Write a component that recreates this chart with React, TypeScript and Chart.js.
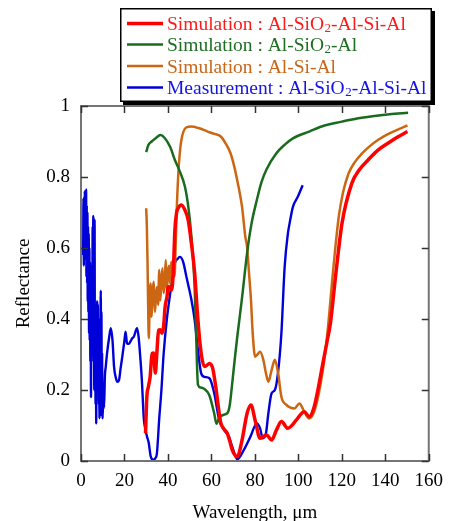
import React, { useEffect, useRef } from 'react';
import { Chart, registerables } from 'chart.js';

Chart.register(...registerables);

const FONT = '"Liberation Serif", "Times New Roman", Times, serif';

const xTickValues = [0, 20, 40, 60, 80, 100, 120, 140, 160];
const yTickValues = [0, 0.2, 0.4, 0.6, 0.8, 1];
const yTickLabels = ['0', '0.2', '0.4', '0.6', '0.8', '1'];

const legendLabels = [
  ['Simulation : Al-SiO', '2', '-Al-Si-Al'],
  ['Simulation : Al-SiO', '2', '-Al'],
  ['Simulation : Al-Si-Al', '', ''],
  ['Measurement : Al-SiO', '2', '-Al-Si-Al'],
];
const seriesColors = ['#ff0000', '#1b6b1f', '#cc6612', '#0000d8'];
const legendTextColors = ['#ff1a1a', '#1f6e23', '#c8661a', '#1414e6'];
const seriesWidths = [3.5, 2.5, 2.5, 2.4];

const redX = [29.7, 30.3, 31, 31.8, 32.7, 33.4, 34.2, 34.9, 35.7, 36.5, 37.2, 38, 38.7, 39.5, 40.2, 41, 41.7, 42.5, 43.2, 44, 44.7, 46.2, 47.8, 49.3, 50.8, 52.3, 53.8, 55.3, 56.8, 58, 59.1, 60.6, 62, 63.6, 64.3, 65.8, 67.3, 68.5, 69.6, 71.9, 74.1, 76.4, 78.2, 80.1, 82.4, 84, 85.4, 87.7, 89.9, 92.2, 95.2, 97, 99, 102.7, 105, 107.3, 109, 111, 113, 114.8, 117.1, 120.1, 124.6, 128, 132.1, 136.5, 141.2, 145.5, 150.2];
const redY = [0.078, 0.181, 0.209, 0.237, 0.303, 0.304, 0.248, 0.304, 0.369, 0.37, 0.36, 0.378, 0.435, 0.46, 0.491, 0.49, 0.482, 0.538, 0.651, 0.70, 0.712, 0.721, 0.707, 0.679, 0.613, 0.529, 0.397, 0.303, 0.266, 0.27, 0.275, 0.261, 0.209, 0.134, 0.108, 0.09, 0.078, 0.055, 0.031, 0.012, 0.059, 0.134, 0.158, 0.115, 0.064, 0.07, 0.073, 0.059, 0.087, 0.111, 0.092, 0.10, 0.115, 0.139, 0.125, 0.153, 0.20, 0.266, 0.33, 0.39, 0.519, 0.67, 0.782, 0.82, 0.848, 0.875, 0.895, 0.912, 0.928];

const greenX = [30, 31, 32.5, 34.5, 36.5, 38.5, 41, 43.2, 45.5, 47.8, 49.5, 50.8, 52.3, 53, 53.8, 55, 56.8, 59, 61.3, 62.3, 63.6, 65.5, 67.5, 68.5, 69.6, 70.8, 71.9, 74.1, 76.4, 78.5, 80.9, 83, 85.4, 89.9, 93.5, 97.5, 105, 112, 120, 127, 135, 142, 150.5];
const greenY = [0.87, 0.89, 0.90, 0.91, 0.918, 0.91, 0.885, 0.848, 0.815, 0.773, 0.71, 0.632, 0.49, 0.35, 0.215, 0.207, 0.203, 0.186, 0.134, 0.105, 0.122, 0.13, 0.136, 0.16, 0.22, 0.29, 0.35, 0.46, 0.585, 0.67, 0.735, 0.785, 0.822, 0.867, 0.89, 0.909, 0.928, 0.945, 0.956, 0.965, 0.972, 0.977, 0.981];

const orangeX = [30, 30.3, 30.6, 30.9, 31.2, 31.6, 32, 32.5, 33, 33.5, 34, 34.5, 35, 35.5, 36, 36.5, 37, 37.5, 38, 38.5, 39, 39.5, 40, 40.5, 41, 41.5, 42, 42.5, 43, 43.5, 44, 44.7, 45.5, 46.5, 48.5, 50.8, 54, 58.3, 61, 64.3, 66.5, 68.8, 70.5, 71.9, 74.1, 75.6, 76.4, 77.3, 78.2, 79, 80.1, 81.2, 82.4, 83.9, 85, 86.2, 87.7, 89.2, 90.7, 92.2, 94.5, 96.5, 98.2, 100.5, 102.7, 105, 107.3, 110.3, 112.5, 114, 115.6, 117, 118.6, 120.5, 123.1, 126, 129.1, 132.5, 136.6, 141, 145.5, 150.2];
const orangeY = [0.712, 0.66, 0.566, 0.435, 0.346, 0.45, 0.50, 0.406, 0.48, 0.505, 0.42, 0.463, 0.49, 0.44, 0.538, 0.453, 0.51, 0.543, 0.473, 0.50, 0.566, 0.48, 0.53, 0.55, 0.50, 0.561, 0.533, 0.55, 0.52, 0.594, 0.70, 0.80, 0.87, 0.914, 0.94, 0.942, 0.938, 0.928, 0.922, 0.914, 0.895, 0.867, 0.83, 0.79, 0.716, 0.632, 0.604, 0.53, 0.454, 0.36, 0.294, 0.30, 0.308, 0.285, 0.25, 0.223, 0.256, 0.285, 0.247, 0.181, 0.158, 0.15, 0.148, 0.162, 0.139, 0.12, 0.139, 0.219, 0.31, 0.40, 0.51, 0.60, 0.688, 0.755, 0.81, 0.842, 0.865, 0.885, 0.904, 0.92, 0.933, 0.945];

const blueX = [1.0, 1.15, 1.3, 1.45, 1.6, 1.75, 1.9, 2.05, 2.2, 2.35, 2.5, 2.65, 2.8, 2.95, 3.1, 3.25, 3.4, 3.55, 3.7, 3.85, 4.0, 4.15, 4.3, 4.45, 4.6, 4.75, 4.9, 5.05, 5.2, 5.35, 5.5, 5.65, 5.8, 5.95, 6.1, 6.25, 6.4, 6.55, 6.7, 6.85, 7.0, 7.15, 7.3, 7.45, 7.6, 7.75, 7.9, 8.05, 8.2, 8.35, 8.5, 8.65, 8.8, 8.95, 9.1, 9.25, 9.4, 9.55, 9.7, 9.85, 10.0, 10.3, 10.6, 11.0, 11.4, 12, 13, 13.7, 14.5, 15.2, 16, 16.7, 17.5, 18.2, 19, 20, 20.5, 21.2, 22, 22.7, 23.5, 24.3, 25.8, 26.5, 27.3, 28, 28.9, 29.7, 30.4, 31.2, 32, 33.4, 34.2, 34.9, 36, 37, 38, 39.5, 41, 41.7, 43.2, 44.5, 45.5, 47, 48.5, 50.8, 52.3, 53.8, 55.3, 56.8, 59.1, 61.3, 63.6, 65.9, 68.1, 69.6, 71.9, 74.9, 77.9, 80.9, 82.4, 83.6, 85.1, 86.2, 87.7, 89.2, 90.7, 92.2, 93.7, 95.2, 96, 97.5, 99.8, 102];
const blueY = [0.58, 0.74, 0.55, 0.73, 0.6, 0.76, 0.57, 0.75, 0.6, 0.765, 0.52, 0.72, 0.5, 0.7, 0.45, 0.66, 0.42, 0.64, 0.36, 0.6, 0.34, 0.56, 0.28, 0.48, 0.18, 0.42, 0.3, 0.55, 0.34, 0.66, 0.38, 0.69, 0.28, 0.6, 0.2, 0.68, 0.26, 0.44, 0.16, 0.4, 0.106, 0.38, 0.2, 0.45, 0.24, 0.44, 0.2, 0.4, 0.16, 0.33, 0.12, 0.3, 0.13, 0.35, 0.48, 0.25, 0.42, 0.18, 0.3, 0.15, 0.12, 0.22, 0.15, 0.24, 0.266, 0.304, 0.35, 0.374, 0.34, 0.266, 0.235, 0.223, 0.228, 0.26, 0.294, 0.34, 0.364, 0.331, 0.33, 0.336, 0.345, 0.35, 0.374, 0.35, 0.29, 0.228, 0.12, 0.087, 0.068, 0.05, 0.015, 0.003, 0.008, 0.02, 0.12, 0.2, 0.3, 0.4, 0.47, 0.5, 0.557, 0.57, 0.575, 0.561, 0.519, 0.454, 0.397, 0.313, 0.247, 0.237, 0.233, 0.191, 0.115, 0.087, 0.068, 0.04, 0.005, 0.031, 0.068, 0.106, 0.092, 0.064, 0.078, 0.134, 0.191, 0.2, 0.252, 0.36, 0.547, 0.641, 0.67, 0.716, 0.745, 0.777];

const seriesX = [redX, greenX, orangeX, blueX];
const seriesY = [redY, greenY, orangeY, blueY];

const axisTitleX = 'Wavelength, μm';
const axisTitleY = 'Reflectance';

const decorPlugin = {
  id: 'decor',
  afterDraw(chart: any) {
    const { ctx, chartArea, scales } = chart;
    const { left, right, top, bottom } = chartArea;
    ctx.save();
    ctx.strokeStyle = '#747474';
    ctx.lineWidth = 2;
    ctx.strokeRect(left, top, right - left, bottom - top);
    ctx.lineWidth = 1.5;
    ctx.strokeStyle = '#333';
    ctx.beginPath();
    xTickValues.forEach((v) => {
      const px = Math.round(scales.x.getPixelForValue(v)) + 0.5;
      ctx.moveTo(px, bottom);
      ctx.lineTo(px, bottom - 7);
      ctx.moveTo(px, top);
      ctx.lineTo(px, top + 7);
    });
    yTickValues.forEach((v) => {
      const py = Math.round(scales.y.getPixelForValue(v)) + 0.5;
      ctx.moveTo(left, py);
      ctx.lineTo(left + 7, py);
      ctx.moveTo(right, py);
      ctx.lineTo(right - 7, py);
    });
    ctx.stroke();

    ctx.fillStyle = '#000';
    ctx.font = `19px ${FONT}`;
    ctx.textAlign = 'center';
    ctx.textBaseline = 'middle';
    ctx.fillText(axisTitleX, (left + right) / 2, 513);
    ctx.save();
    ctx.translate(24, (top + bottom) / 2);
    ctx.rotate(-Math.PI / 2);
    ctx.fillText(axisTitleY, 0, 0);
    ctx.restore();

    const bx = 120, by = 8, bw = 312, bh = 94;
    ctx.fillStyle = '#000';
    ctx.fillRect(bx + 3, by + 3, bw, bh);
    ctx.fillStyle = '#fff';
    ctx.fillRect(bx, by, bw, bh);
    ctx.strokeStyle = '#000';
    ctx.lineWidth = 1.5;
    ctx.strokeRect(bx + 0.75, by + 0.75, bw - 1.5, bh - 1.5);
    const rows = [23.5, 44.5, 66, 87.5];
    legendLabels.forEach((parts, i) => {
      const ry = rows[i];
      ctx.strokeStyle = seriesColors[i];
      ctx.lineWidth = i === 0 ? 3.5 : 2.5;
      ctx.beginPath();
      ctx.moveTo(127, ry);
      ctx.lineTo(163, ry);
      ctx.stroke();
      ctx.fillStyle = legendTextColors[i];
      ctx.textAlign = 'left';
      ctx.textBaseline = 'alphabetic';
      let tx = 167;
      const base = ry + 6.5;
      ctx.font = `19.5px ${FONT}`;
      ctx.fillText(parts[0], tx, base);
      tx += ctx.measureText(parts[0]).width;
      if (parts[1]) {
        ctx.font = `13px ${FONT}`;
        ctx.fillText(parts[1], tx + 0.5, base + 1.5);
        tx += ctx.measureText(parts[1]).width + 0.5;
      }
      if (parts[2]) {
        ctx.font = `19.5px ${FONT}`;
        ctx.fillText(parts[2], tx, base);
      }
    });
    ctx.restore();
  },
};

export default function App() {
  const ref = useRef<HTMLCanvasElement | null>(null);
  useEffect(() => {
    if (!ref.current) return;
    const datasets = seriesX.map((xs, i) => ({
      label: legendLabels[i].join(''),
      data: xs.map((x, j) => ({ x, y: seriesY[i][j] })),
      borderColor: seriesColors[i],
      backgroundColor: seriesColors[i],
      borderWidth: seriesWidths[i],
      pointRadius: 0,
      tension: 0,
      cubicInterpolationMode: 'monotone' as const,
      fill: false,
    }));
    const chart = new Chart(ref.current, {
      type: 'line',
      data: { datasets },
      options: {
        animation: false,
        responsive: false,
        devicePixelRatio: 1,
        layout: { padding: { left: 0, right: 17, top: 106, bottom: 0 } },
        plugins: { legend: { display: false }, tooltip: { enabled: false } },
        scales: {
          x: {
            type: 'linear',
            min: 0,
            max: 160,
            afterBuildTicks: (s: any) => {
              s.ticks = xTickValues.map((v) => ({ value: v }));
            },
            afterFit: (s: any) => {
              s.height = 60;
            },
            ticks: { color: '#000', font: { family: FONT, size: 19 }, padding: 9, maxRotation: 0 },
            grid: { display: false, drawTicks: false },
            border: { display: false },
          },
          y: {
            type: 'linear',
            min: 0,
            max: 1,
            afterBuildTicks: (s: any) => {
              s.ticks = yTickValues.map((v) => ({ value: v }));
            },
            afterFit: (s: any) => {
              s.width = 81;
            },
            ticks: {
              color: '#000',
              font: { family: FONT, size: 19 },
              padding: 11,
              callback: (v: any) => {
                const idx = yTickValues.findIndex((t) => Math.abs(t - Number(v)) < 1e-9);
                return idx >= 0 ? yTickLabels[idx] : '';
              },
            },
            grid: { display: false, drawTicks: false },
            border: { display: false },
          },
        },
      },
      plugins: [decorPlugin],
    });
    return () => chart.destroy();
  }, []);
  return (
    <div style={{ position: 'fixed', left: 0, top: 0, width: 452, height: 521, background: '#fff' }}>
      <canvas ref={ref} width={452} height={521} style={{ display: 'block' }} />
    </div>
  );
}
